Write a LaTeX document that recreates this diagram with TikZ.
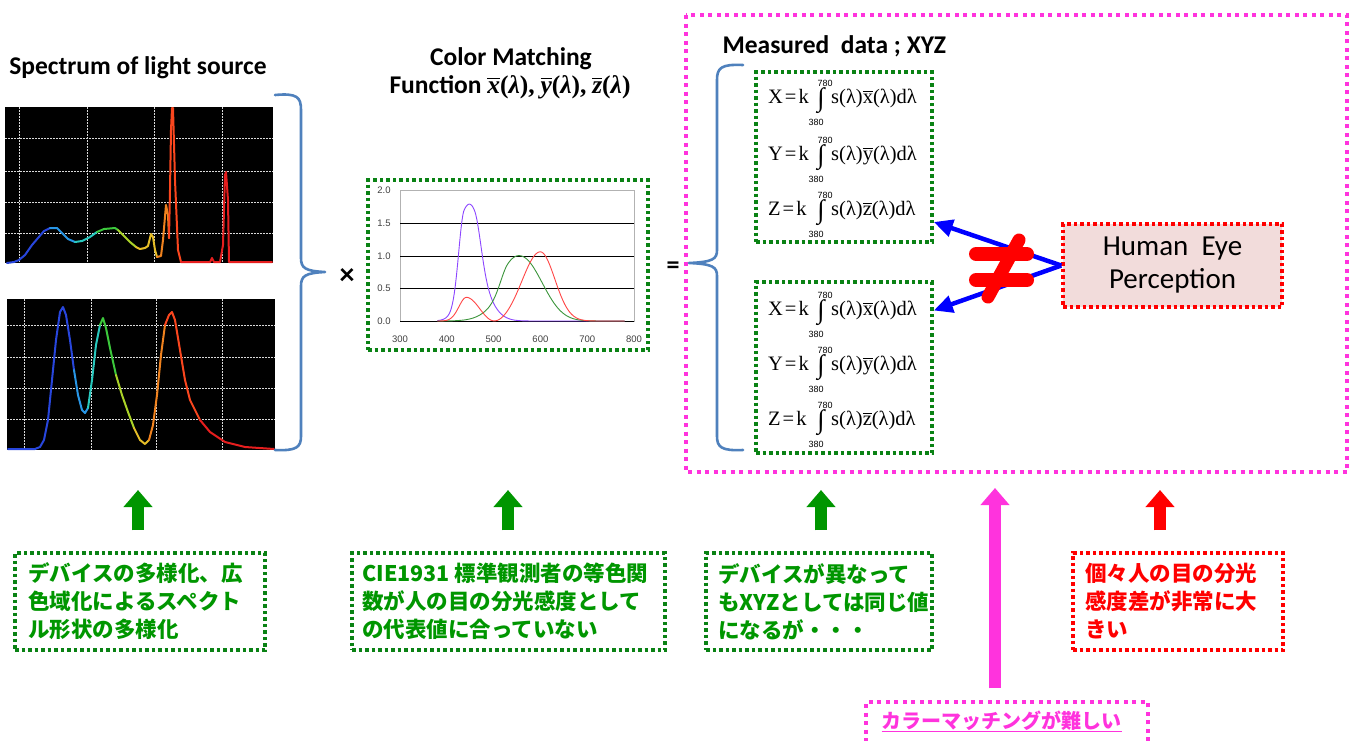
\documentclass[tikz,border=0pt]{standalone}
\usepackage{graphicx}
\usepackage{fontspec}
\setmainfont{Carlito}
\newfontfamily\tnr{Liberation Serif}
\newfontfamily\lsans{Liberation Sans}
\newfontfamily\jp{Noto Sans CJK JP}
\usetikzlibrary{arrows.meta,calc}

\definecolor{bracecol}{RGB}{79,129,189}
\definecolor{gborder}{RGB}{10,130,20}
\definecolor{gtext}{RGB}{0,150,0}
\definecolor{garrow}{RGB}{0,150,0}
\definecolor{magenta2}{RGB}{255,51,221}
\definecolor{eyefill}{RGB}{242,220,219}
\definecolor{axisgray}{RGB}{64,64,64}
\definecolor{cxbar}{RGB}{255,70,70}
\definecolor{cybar}{RGB}{60,150,60}
\definecolor{czbar}{RGB}{140,70,255}
\definecolor{s1}{RGB}{40,70,220}
\definecolor{s2}{RGB}{40,150,230}
\definecolor{s3}{RGB}{40,200,190}
\definecolor{s4}{RGB}{60,200,60}
\definecolor{s5}{RGB}{170,210,40}
\definecolor{s6}{RGB}{230,190,40}
\definecolor{s7}{RGB}{240,130,30}
\definecolor{s8}{RGB}{250,70,30}
\definecolor{s9}{RGB}{230,30,30}

% a letter with a bar above it
\newsavebox\barbox
\newcommand{\barred}[2][1pt]{\sbox\barbox{#2}\rlap{\raisebox{\dimexpr\ht\barbox+2pt\relax}{\rule{\wd\barbox}{#1}}}\usebox\barbox}
% colour matching function symbol, bold italic with upright brackets
\newcommand{\fvar}[1]{{\tnr\bfseries\itshape\barred[1.6pt]{#1}\upshape(\itshape λ\upshape)}}
% one line of the XYZ integrals: name, baseline, capital, small letter
\newcommand{\xyzrow}[4]{%
  \node[fml, anchor=base west] (#1l) at (768,#2) {#3\kern2pt=\kern2pt k};
  \node[inner sep=0pt] (#1i) at (821,#2-2) {\resizebox*{!}{26pt}{\tnr ∫}};
  \node[lim] (#1u) at (825,#2-20) {780};
  \node[lim] (#1d) at (816,#2+19.5) {380};
  \node[fml, anchor=base west] (#1r) at (831,#2) {s(λ)\barred{#4}(λ)dλ};
}

\begin{document}
\begin{tikzpicture}[x=1pt,y=-1pt,
  declare function={
    lobe(\lx,\lm,\la,\lb)=exp(max(-9,-0.5*(abs(\lx-\lm)/((\lx<\lm)?\la:\lb))^2));
    cmx(\lx)=1.056*lobe(\lx,599.8,37.9,31.0)+0.362*lobe(\lx,442.0,16.0,26.7)-0.065*lobe(\lx,501.1,20.4,26.2);
    cmy(\lx)=0.821*lobe(\lx,568.8,46.9,40.5)+0.286*lobe(\lx,530.9,16.3,31.1);
    cmz(\lx)=1.217*lobe(\lx,437.0,11.8,36.0)+0.681*lobe(\lx,459.0,26.0,13.8);
  },
  ttl/.style={font=\bfseries\fontsize{25.5}{30}\selectfont},
  dots/.style={dash pattern=on 3.5pt off 3pt, line width=3.5pt},
  gbox/.style={draw=gborder, dots, minimum width=#1, inner sep=0pt},
  fml/.style={font=\tnr\fontsize{20.5}{22}\selectfont, inner sep=0pt},
  lim/.style={font=\lsans\fontsize{9}{9}\selectfont, inner sep=0pt},
  jtxt/.style={font=\jp\bfseries\fontsize{21.5}{28}\selectfont, align=left, inner sep=0pt},
  brace/.style={draw=bracecol, line width=2.6pt, line cap=round, line join=round},
  grid/.style={draw=white!85!black, line width=0.8pt, dash pattern=on 1.5pt off 1.5pt},
  spec/.style={line width=2pt, line join=round, line cap=round},
  blockup/.style={draw=#1, line width=12pt, -{Triangle[width=28pt,length=17pt]}},
  barrow/.style={draw=blue, line width=4.5pt, -{Triangle[width=17pt,length=19pt]}},
]
\useasboundingbox (0,0) rectangle (1357,740);
\fill[white] (0,0) rectangle (1357,740);

% ---------- spectra of the light sources ----------
\node[ttl] (tspec) at (138,68) {Spectrum of light source};

\fill[black] (5,107) rectangle (273,263);
\foreach \gx in {19,87,154,222} \draw[grid] (\gx,107) -- (\gx,263);
\foreach \gy in {138,171,202,233} \draw[grid] (5,\gy) -- (273,\gy);
\draw[spec,s1] (7,263) -- (14,262) -- (19,260) -- (25,255) -- (32,245) -- (38,238) -- (44,231) -- (50,228);
\draw[spec,s2] (50,228) -- (57,228) -- (62,233) -- (68,239) -- (75,242);
\draw[spec,s3] (75,242) -- (82,241) -- (90,237) -- (97,232);
\draw[spec,s4] (97,232) -- (104,229) -- (115,228) -- (118,230);
\draw[spec,s5] (118,230) -- (124,236) -- (130,242) -- (136,247);
\draw[spec,s6] (136,247) -- (140,249) -- (145,248) -- (148,246) -- (151,234) -- (153,237) -- (155,250) -- (157,257);
\draw[spec,s7] (157,257) -- (161,256) -- (163,240) -- (166,205) -- (168,215) -- (169,238);
\draw[spec,s8] (169,238) -- (170,190) -- (171,130) -- (172,108) -- (173,108) -- (175,180) -- (178,250) -- (181,262);
\draw[spec,s9] (181,262) -- (210,262) -- (212,258) -- (214,262) -- (220,262) -- (223,245) -- (225,175) -- (226,172) -- (228,200) -- (229,262) -- (272,262);

\fill[black] (7,299) rectangle (275,450);
\foreach \gx in {24,91,156,222} \draw[grid] (\gx,299) -- (\gx,450);
\foreach \gy in {325,357,388,419} \draw[grid] (7,\gy) -- (275,\gy);
\draw[spec,s1] (8,449) -- (35,449) -- (40,447) -- (44,440) -- (48,420) -- (52,380) -- (56,340) -- (60,312) -- (63,307) -- (66,315) -- (70,340) -- (74,370);
\draw[spec,s2] (74,370) -- (78,395) -- (82,410) -- (85,413) -- (88,408);
\draw[spec,s3] (88,408) -- (92,380) -- (96,345) -- (100,325);
\draw[spec,s4] (100,325) -- (103,318) -- (106,328) -- (110,348) -- (116,375);
\draw[spec,s5] (116,375) -- (122,395) -- (128,412) -- (134,428);
\draw[spec,s6] (134,428) -- (140,440) -- (145,444) -- (149,440);
\draw[spec,s7] (149,440) -- (153,425) -- (157,395) -- (161,355) -- (165,325);
\draw[spec,s8] (165,325) -- (169,315) -- (172,312) -- (175,320) -- (180,350) -- (185,380) -- (190,400) -- (200,420);
\draw[spec,s9] (200,420) -- (210,432) -- (225,442) -- (245,447) -- (274,449);

\draw[brace] (275,95) .. controls (297,93) and (301,97) .. (301,110) -- (301,258)
  .. controls (301,268) and (305,271) .. (325,272)
  .. controls (305,273) and (301,276) .. (301,286) -- (301,436)
  .. controls (301,447) and (297,451) .. (275,450);

\node[font=\bfseries\fontsize{30}{30}\selectfont] (times) at (347,276) {×};

% ---------- colour matching functions ----------
\node[ttl, anchor=base] (tcmf1) at (511,65) {Color Matching};
\node[ttl, anchor=base] (tcmf2) at (510,93) {Function \fvar{x}{\tnr\bfseries,} \fvar{y}{\tnr\bfseries,} \fvar{z}};

\node[gbox=280pt, minimum height=170pt] (chart) at (508,265) {};
\draw[black!30, line width=0.8pt] (400,190) rectangle (634,321);
\foreach \gy in {223,256,288} \draw[black, line width=0.9pt] (400,\gy) -- (634,\gy);
\draw[black, line width=1pt] (400,321) -- (634,321);
\foreach \gy/\lab in {190/2.0,223/1.5,256/1.0,288/0.5,321/0.0}
  \node[font=\lsans\fontsize{9.5}{9.5}\selectfont, text=axisgray] (ylab\lab) at (384,\gy) {\lab};
\foreach \lam in {300,400,...,800}
  \node[font=\lsans\fontsize{9.5}{9.5}\selectfont, text=axisgray] (xlab\lam) at ({400+(\lam-300)*0.468},339) {\lam};
\draw[czbar, line width=0.9pt] plot[domain=380:780, samples=201] ({400+(\x-300)*0.468},{321-65.5*cmz(\x)});
\draw[cybar, line width=0.9pt] plot[domain=380:780, samples=201] ({400+(\x-300)*0.468},{321-65.5*cmy(\x)});
\draw[cxbar, line width=0.9pt] plot[domain=380:780, samples=201] ({400+(\x-300)*0.468},{321-65.5*cmx(\x)});

\node[font=\bfseries\fontsize{26}{26}\selectfont] (equals) at (673,268) {=};

% ---------- measured data ----------
\draw[draw=magenta2, dash pattern=on 4pt off 4.5pt, line width=4pt] (686,15) rectangle (1347,472);
\node[ttl, anchor=base west] (tmeas) at (719,53) {Measured\ \ data ; XYZ};

\draw[brace] (743,65) .. controls (721,64) and (717,68) .. (717,80) -- (717,250)
  .. controls (717,259) and (713,262) .. (689,263)
  .. controls (713,264) and (717,267) .. (717,276) -- (717,436)
  .. controls (717,447) and (721,451) .. (743,450);

\node[gbox=176pt, minimum height=170pt] (fbox1) at (844,157) {};
\node[gbox=176pt, minimum height=171pt] (fbox2) at (844,367.5) {};
\xyzrow{fx1}{103}{X}{x}
\xyzrow{fy1}{160}{Y}{y}
\xyzrow{fz1}{215}{Z}{z}
\xyzrow{fx2}{315}{X}{x}
\xyzrow{fy2}{370}{Y}{y}
\xyzrow{fz2}{425}{Z}{z}

\node[draw=red, fill=eyefill, dash pattern=on 3.5pt off 3pt, line width=3.5pt,
      minimum width=219pt, minimum height=83pt, align=center,
      font=\fontsize{29}{33}\selectfont] (eye) at (1172.5,265.5) {Human\ \ Eye\\Perception};

\coordinate (hit1) at ($(fbox1.east)+(0,65)$);
\coordinate (hit2) at ($(fbox2.east)+(0,-57)$);
\draw[barrow] (eye.west) -- (hit1);
\draw[barrow] (eye.west) -- (hit2);

% not-equal sign
\draw[red, line width=14pt, line cap=round] (976,254) -- (1027,254);
\draw[red, line width=14pt, line cap=round] (976,280) -- (1027,280);
\draw[red, line width=13pt, line cap=round] (1019,240) -- (988,297);

% ---------- remarks ----------
\node[gbox=250pt, minimum height=97pt] (b1) at (140,601.5) {};
\node[jtxt, text=gtext, anchor=west] (t1) at (28,601.5) {デバイスの多様化、広\\色域化によるスペクト\\ル形状の多様化};
\node[gbox=313pt, minimum height=97pt] (b2) at (508.5,601.5) {};
\node[jtxt, text=gtext, anchor=west] (t2) at (362,601.5) {CIE1931 標準観測者の等色関\\数が人の目の分光感度として\\の代表値に合っていない};
\node[gbox=226pt, minimum height=97pt] (b3) at (819,601.5) {};
\node[jtxt, text=gtext, anchor=west] (t3) at (718,601.5) {デバイスが異なって\\もXYZとしては同じ値\\になるが・・・};
\node[draw=red, dots, minimum width=210pt, minimum height=97pt, inner sep=0pt] (b4) at (1178,601.5) {};
\node[jtxt, text=red, anchor=west] (t4) at (1085,601.5) {個々人の目の分光\\感度差が非常に大\\きい};
\node[draw=magenta2, dash pattern=on 4pt off 4.5pt, line width=3.5pt, minimum width=282pt, minimum height=46pt, inner sep=0pt] (b5) at (1007,725) {};
\node[font=\jp\bfseries\fontsize{20}{24}\selectfont, text=magenta2, anchor=base west] (t5) at (878,728) {\underline{カラーマッチングが難しい}};

\coordinate (up1) at (138,490);
\coordinate (up2) at (508,490);
\coordinate (up3) at (821,490);
\coordinate (up4) at (1160,490);
\coordinate (up5) at (995,488);
\draw[blockup=garrow] ($(b1.north)+(-2,-21)$) -- (up1);
\draw[blockup=garrow] ($(b2.north)+(-0.5,-21)$) -- (up2);
\draw[blockup=garrow] ($(b3.north)+(2,-21)$) -- (up3);
\draw[blockup=red] ($(b4.north)+(-18,-21)$) -- (up4);
\draw[blockup=magenta2] ($(b5.north)+(-12,-12)$) -- (up5);
\end{tikzpicture}
\end{document}
